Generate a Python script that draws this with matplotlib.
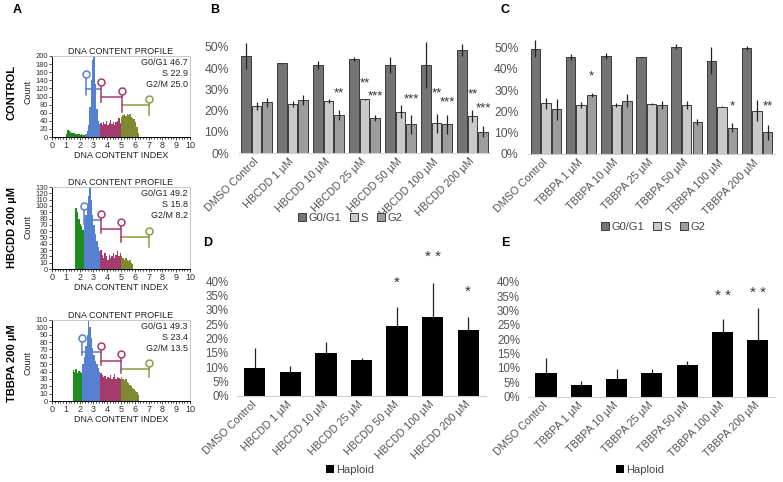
import matplotlib
matplotlib.use("Agg")
import matplotlib.pyplot as plt
from matplotlib.ticker import MultipleLocator, PercentFormatter
import numpy as np

plt.rcParams["font.family"] = ["Liberation Sans", "DejaVu Sans"]

# ---------------- panel A: DNA content histograms (bin width 0.1) ----------------
hist_labels = ["CONTROL", "HBCDD 200 µM", "TBBPA 200 µM"]
hist_ymax = [200, 130, 110]
hist_ystep = [20, 10, 10]
hist_stats = [("46.7", "22.9", "25.0"), ("49.2", "15.8", "8.2"), ("49.3", "23.4", "13.5")]

# start of each population (green, blue, pink, olive) and counts per 0.1 bin
ctrl_starts = [1.0, 2.4, 3.5, 5.0]
ctrl_counts = [
    [8, 18, 15, 12, 10, 9, 10, 8, 7, 8, 6, 7, 5, 5],
    [8, 15, 30, 75, 140, 190, 200, 130, 70, 40, 32],
    [35, 30, 38, 32, 40, 30, 35, 42, 33, 38, 30, 36, 40, 48, 35],
    [50, 55, 58, 52, 56, 54, 57, 50, 48, 45, 38, 25, 10],
]
hbcdd_starts = [1.7, 2.3, 3.5, 5.0]
hbcdd_counts = [
    [97, 90, 80, 72, 68, 62],
    [75, 85, 100, 115, 130, 110, 85, 70, 55, 45, 35, 28],
    [30, 22, 18, 25, 20, 15, 22, 18, 20, 25, 18, 22, 28, 20, 25],
    [20, 18, 15, 17, 14, 12, 15, 10, 8],
]
tbbpa_starts = [1.5, 2.2, 3.5, 5.0]
tbbpa_counts = [
    [42, 40, 43, 38, 41, 40, 38],
    [50, 60, 75, 90, 110, 100, 85, 72, 62, 55, 50, 45, 40],
    [38, 35, 32, 34, 30, 33, 31, 35, 30, 32, 36, 30, 33, 31, 30],
    [32, 30, 28, 30, 26, 24, 22, 20, 18, 16, 14, 12, 8],
]
hist_starts = [ctrl_starts, hbcdd_starts, tbbpa_starts]
hist_counts = [ctrl_counts, hbcdd_counts, tbbpa_counts]

# gate markers: x ends, horizontal level, circle heights and lower ends of the vertical ticks
gate_x0 = [[2.46, 3.53, 5.05], [2.34, 3.53, 5.0], [2.15, 3.53, 5.0]]
gate_x1 = [[3.53, 5.05, 7.03], [3.53, 5.0, 7.03], [3.53, 5.0, 7.03]]
gate_y = [[118, 100, 79], [77, 64, 51], [66, 54, 44]]
circle_y = [[155, 135, 114, 94], [100, 87, 74, 61], [86, 75, 64, 52]]
tick_lo = [[104, 87, 62, 54], [72, 57, 43, 35], [62, 49, 38, 32]]

pop_colors = ["#1e8c1e", "#5680d0", "#a53a6c", "#7f8a30"]
gate_colors = ["#5680d0", "#a53a6c", "#8c9a44"]

# ---------------- panels B-E: bar charts ----------------
hbcdd_cats = ["DMSO Control", "HBCDD 1 µM", "HBCDD 10 µM", "HBCDD 25 µM",
              "HBCDD 50 µM", "HBCDD 100 µM", "HBCDD 200 µM"]
tbbpa_cats = ["DMSO Control", "TBBPA 1 µM", "TBBPA 10 µM", "TBBPA 25 µM",
              "TBBPA 50 µM", "TBBPA 100 µM", "TBBPA 200 µM"]
phase_names = ["G0/G1", "S", "G2"]
phase_colors = ["#747474", "#c9c9c9", "#9d9d9d"]

b_g0 = [45.8, 42.3, 41.5, 44.2, 41.5, 41.5, 48.6]
b_g0_err = [6, 0.3, 2, 1, 4, 11, 3]
b_s = [22.2, 23.1, 24.5, 25.3, 19.5, 14.0, 17.5]
b_s_err = [2, 1.5, 1, 0.3, 3, 4.5, 3]
b_g2 = [23.9, 25.0, 17.9, 16.5, 13.5, 13.5, 10.0]
b_g2_err = [2, 2.5, 2.5, 1.5, 4.5, 4.5, 2.5]
b_stars = [(2, 2, "**", 28.3), (3, 1, "**", 33.0), (3, 2, "***", 26.9), (4, 2, "***", 25.5),
           (5, 1, "**", 28.3), (5, 2, "***", 24.0), (6, 1, "**", 27.8), (6, 2, "***", 21.2)]

c_g0 = [49.5, 45.5, 46.1, 45.5, 50.5, 43.9, 50.0]
c_g0_err = [4, 1.5, 1.5, 0.2, 1, 6.5, 1]
c_s = [23.8, 23.0, 23.0, 23.5, 23.0, 22.3, 20.4]
c_s_err = [2.5, 1.5, 1, 0.5, 2, 0.3, 5]
c_g2 = [21.0, 27.6, 25.0, 23.0, 15.0, 12.4, 10.3]
c_g2_err = [5, 1, 3, 2, 1.5, 2, 3.5]
c_stars = [(1, 2, "*", 36.7), (5, 2, "*", 22.5), (6, 2, "**", 22.5)]

d_haploid = [9.8, 8.2, 14.9, 12.5, 24.4, 27.5, 23.0]
d_err = [6.8, 2.2, 3.8, 0.6, 6.5, 11.9, 4.5]
d_stars = [(4, "*", 39.4), (5, "* *", 48.2), (6, "*", 36.1)]

e_haploid = [8.1, 3.9, 6.0, 8.1, 10.9, 22.5, 19.7]
e_err = [5.5, 1.5, 3.8, 1.7, 1.5, 4.5, 11.0]
e_stars = [(5, "* *", 35.0), (6, "* *", 36.0)]

W, H = 783, 482
fig = plt.figure(figsize=(W / 100, H / 100), dpi=100)


def px_axes(left, top, right, bottom):
    return fig.add_axes([left / W, 1 - bottom / H, (right - left) / W, (bottom - top) / H])


def fig_text(x, y, s, **kw):
    fig.text(x / W, 1 - y / H, s, **kw)


# ---- panel A ----
hist_boxes = [(56, 137), (187, 269), (320, 401)]
row_centers = [92, 227, 363]
for i, (top, bottom) in enumerate(hist_boxes):
    ax = px_axes(52, top, 190, bottom)
    for start, counts, col in zip(hist_starts[i], hist_counts[i], pop_colors):
        edges = start + 0.1 * np.arange(len(counts) + 1)
        ax.stairs(counts, edges, fill=True, color=col, linewidth=0)
    # gates
    x0, x1, gy = gate_x0[i], gate_x1[i], gate_y[i]
    cy, lo = circle_y[i], tick_lo[i]
    for k in range(3):
        ax.plot([x0[k], x1[k]], [gy[k], gy[k]], color=gate_colors[k], lw=1.1)
    ax.plot([x0[0], x0[0]], [lo[0], cy[0]], color=gate_colors[0], lw=1.1)
    ax.plot([x0[1], x0[1]], [lo[1], cy[1]], color=gate_colors[1], lw=1.1)
    ax.plot([x1[1], x1[1]], [lo[2], cy[2]], color=gate_colors[1], lw=1.1)
    ax.plot([x1[2], x1[2]], [lo[3], cy[3]], color=gate_colors[2], lw=1.1)
    circ_x = [x0[0], x0[1], x1[1], x1[2]]
    circ_c = [gate_colors[0], gate_colors[1], gate_colors[1], gate_colors[2]]
    for cx, cyy, cc in zip(circ_x, cy, circ_c):
        ax.plot(cx, cyy, "o", ms=5, mfc="white", mec=cc, mew=1.1)
    ax.set_xlim(0, 10)
    ax.set_ylim(0, hist_ymax[i])
    ax.xaxis.set_major_locator(MultipleLocator(1))
    ax.xaxis.set_minor_locator(MultipleLocator(0.2))
    ax.yaxis.set_major_locator(MultipleLocator(hist_ystep[i]))
    ax.tick_params(labelsize=5.5, length=2, width=0.6, pad=1, colors="#333333")
    ax.tick_params(which="minor", length=1.2, width=0.5)
    ax.tick_params(axis="x", labelsize=6.5)
    for s in ["top", "right"]:
        ax.spines[s].set_color("#c0c0c0")
        ax.spines[s].set_linewidth(0.6)
    for s in ["left", "bottom"]:
        ax.spines[s].set_linewidth(0.7)
    ax.set_title("DNA CONTENT PROFILE", fontsize=6.5, pad=1.5, color="#222222")
    ax.set_xlabel("DNA CONTENT INDEX", fontsize=6.5, labelpad=0.5, color="#222222")
    g0, s_, g2 = hist_stats[i]
    ax.text(0.985, 0.97, f"G0/G1 {g0}\nS {s_}\nG2/M {g2}", transform=ax.transAxes,
            ha="right", va="top", fontsize=6.5, linespacing=1.25, color="#222222")
    fig_text(28, row_centers[i], "Count", rotation=90, ha="center", va="center",
             fontsize=6.5, color="#222222")
    fig_text(12, row_centers[i], hist_labels[i], rotation=90, ha="center", va="center",
             fontsize=8, fontweight="bold")


# ---- bar panels ----
def style_bar_axes(ax, cats, ymax, step, ysize, ypad):
    ax.set_xlim(-0.5, len(cats) - 0.5)
    ax.set_ylim(0, ymax)
    ax.yaxis.set_major_locator(MultipleLocator(step))
    ax.yaxis.set_major_formatter(PercentFormatter(xmax=100, decimals=0))
    for s in ["top", "right", "left"]:
        ax.spines[s].set_visible(False)
    ax.spines["bottom"].set_color("#d0d0d0")
    ax.tick_params(length=0, colors="#555555")
    ax.tick_params(axis="y", labelsize=ysize, pad=ypad)
    ax.set_xticks(range(len(cats)))
    ax.set_xticklabels(cats, rotation=45, ha="right", va="center",
                       rotation_mode="anchor", fontsize=7.8)
    ax.tick_params(axis="x", pad=5)


def add_legend(ax, xy, ncol):
    ax.legend(loc="center", bbox_to_anchor=(xy[0] / W, 1 - xy[1] / H),
              bbox_transform=fig.transFigure, ncol=ncol, frameon=False, fontsize=8,
              handlelength=0.7, handleheight=0.7, handletextpad=0.25, columnspacing=0.8,
              labelcolor="#444444")


def phase_panel(box, cats, series, errs, stars, ymax, legend_xy):
    ax = px_axes(*box)
    x = np.arange(len(cats))
    offs = [-0.3, 0.0, 0.3]
    for vals, err, off, col, name in zip(series, errs, offs, phase_colors, phase_names):
        ax.bar(x + off, vals, width=0.27, color=col, edgecolor="#3a3a3a", linewidth=0.7,
               yerr=err, error_kw=dict(elinewidth=0.9, ecolor="#222222", capsize=0),
               label=name)
    for g, k, txt, yv in stars:
        ax.text(g + offs[k], yv, txt, ha="center", va="center", fontsize=9.5, color="#333333")
    style_bar_axes(ax, cats, ymax, 10, 8.8, 7)
    add_legend(ax, legend_xy, 3)


def haploid_panel(box, cats, vals, err, stars, legend_xy):
    ax = px_axes(*box)
    x = np.arange(len(cats))
    ax.bar(x, vals, width=0.6, color="black", label="Haploid",
           yerr=[np.zeros(len(err)), err],
           error_kw=dict(elinewidth=0.9, ecolor="#222222", capsize=0))
    for g, txt, yv in stars:
        ax.text(g, yv, txt, ha="center", va="center", fontsize=11, color="#333333")
    style_bar_axes(ax, cats, 40, 5, 8.3, 6)
    add_legend(ax, legend_xy, 1)


phase_panel((238.5, 40, 490.5, 153), hbcdd_cats, [b_g0, b_s, b_g2],
            [b_g0_err, b_s_err, b_g2_err], b_stars, 53.3, (350, 218))
phase_panel((528.4, 40, 774.7, 154), tbbpa_cats, [c_g0, c_s, c_g2],
            [c_g0_err, c_s_err, c_g2_err], c_stars, 53.6, (653, 227))
haploid_panel((237, 281, 486, 395.7), hbcdd_cats, d_haploid, d_err, d_stars, (350, 470))
haploid_panel((528.3, 281.7, 775.5, 396.7), tbbpa_cats, e_haploid, e_err, e_stars, (640, 470))

# panel letters
for letter, (lx, ly) in zip("ABCDE", [(17, 10), (215, 10), (505, 10), (208, 243), (505, 243)]):
    fig_text(lx, ly, letter, fontsize=9, fontweight="bold", ha="center", va="center")

fig.savefig("out.png", dpi=100)
